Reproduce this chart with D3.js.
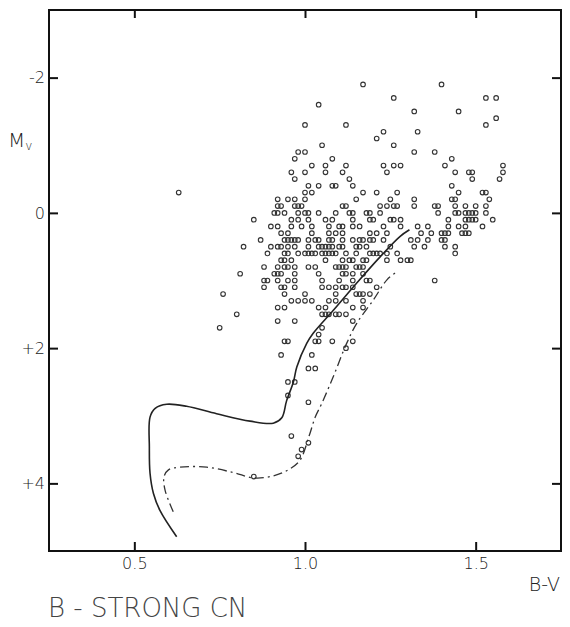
<!DOCTYPE html>
<html>
<head>
<meta charset="utf-8">
<script src="https://cdn.jsdelivr.net/npm/d3@7"></script>
<style>
  body { margin: 0; background: #fff; }
  svg { display: block; }
  .lbl { font-family: "DejaVu Sans", sans-serif; font-weight: 200; fill: #222; }
</style>
</head>
<body>
<div id="chart"></div>
<script>
// B-V ticks and Mv ticks
var xTicks = [0.5, 1.0, 1.5];
var xTickLabels = ["0.5", "1.0", "1.5"];
var yTicks = [-2, 0, 2, 4];
var yTickLabels = ["-2", "0", "+2", "+4"];

// stars, one entry per Mv row (0.1 mag steps), B-V values in that row
var starRows = [
  {mv: -1.9, bv: [1.17, 1.40]},
  {mv: -1.7, bv: [1.26, 1.53, 1.56]},
  {mv: -1.6, bv: [1.04]},
  {mv: -1.5, bv: [1.32, 1.45]},
  {mv: -1.4, bv: [1.56]},
  {mv: -1.3, bv: [1.00, 1.12, 1.53]},
  {mv: -1.2, bv: [1.23, 1.33]},
  {mv: -1.1, bv: [1.21]},
  {mv: -1.0, bv: [1.05, 1.26]},
  {mv: -0.9, bv: [0.98, 1.00, 1.32, 1.38]},
  {mv: -0.8, bv: [0.97, 1.08, 1.43]},
  {mv: -0.7, bv: [1.02, 1.06, 1.12, 1.23, 1.26, 1.28, 1.41, 1.58]},
  {mv: -0.6, bv: [0.96, 1.00, 1.06, 1.11, 1.24, 1.44, 1.48, 1.49, 1.58]},
  {mv: -0.5, bv: [0.97, 1.13, 1.49, 1.57]},
  {mv: -0.4, bv: [1.01, 1.04, 1.08, 1.09, 1.14, 1.43]},
  {mv: -0.3, bv: [0.63, 1.00, 1.02, 1.17, 1.21, 1.27, 1.45, 1.52, 1.53]},
  {mv: -0.2, bv: [0.92, 0.95, 0.97, 1.00, 1.15, 1.25, 1.32, 1.43, 1.44, 1.54]},
  {mv: -0.1, bv: [0.92, 0.93, 0.97, 0.98, 0.99, 1.11, 1.12, 1.22, 1.24, 1.26, 1.27, 1.32, 1.38, 1.39, 1.44, 1.47, 1.50, 1.53]},
  {mv: 0.0, bv: [0.91, 0.92, 0.94, 0.98, 1.00, 1.01, 1.04, 1.09, 1.13, 1.14, 1.18, 1.19, 1.22, 1.39, 1.44, 1.45, 1.47, 1.48, 1.49, 1.50, 1.53]},
  {mv: 0.1, bv: [0.85, 0.96, 0.98, 1.01, 1.06, 1.08, 1.14, 1.19, 1.20, 1.25, 1.26, 1.28, 1.42, 1.47, 1.48, 1.49, 1.50, 1.55]},
  {mv: 0.2, bv: [0.90, 0.92, 0.96, 0.99, 1.02, 1.07, 1.10, 1.11, 1.14, 1.16, 1.23, 1.28, 1.33, 1.36, 1.42, 1.45, 1.47, 1.52]},
  {mv: 0.3, bv: [0.93, 0.95, 1.02, 1.07, 1.09, 1.11, 1.19, 1.21, 1.24, 1.34, 1.37, 1.40, 1.41, 1.42, 1.46, 1.47, 1.48]},
  {mv: 0.4, bv: [0.87, 0.94, 0.95, 0.96, 0.97, 0.98, 1.01, 1.03, 1.04, 1.07, 1.08, 1.11, 1.14, 1.16, 1.17, 1.19, 1.20, 1.23, 1.31, 1.33, 1.36, 1.40, 1.41]},
  {mv: 0.5, bv: [0.82, 0.90, 0.92, 0.93, 0.95, 0.97, 1.01, 1.04, 1.05, 1.06, 1.07, 1.08, 1.10, 1.11, 1.15, 1.16, 1.18, 1.25, 1.32, 1.35, 1.41, 1.44]},
  {mv: 0.6, bv: [0.89, 0.94, 0.95, 0.98, 1.00, 1.01, 1.02, 1.03, 1.05, 1.06, 1.07, 1.08, 1.09, 1.12, 1.15, 1.19, 1.20, 1.21, 1.22, 1.24, 1.27, 1.44]},
  {mv: 0.7, bv: [0.93, 0.94, 0.96, 1.06, 1.11, 1.13, 1.14, 1.17, 1.18, 1.24, 1.28, 1.30, 1.31]},
  {mv: 0.8, bv: [0.88, 0.92, 0.94, 0.95, 0.97, 1.01, 1.03, 1.09, 1.10, 1.11, 1.12, 1.15, 1.16, 1.17]},
  {mv: 0.9, bv: [0.81, 0.91, 0.92, 0.93, 0.97, 1.04, 1.11, 1.12, 1.14, 1.17]},
  {mv: 1.0, bv: [0.88, 0.89, 0.92, 0.95, 0.97, 1.05, 1.10, 1.14, 1.18, 1.19, 1.38]},
  {mv: 1.1, bv: [0.88, 0.93, 0.94, 0.97, 1.05, 1.07, 1.09, 1.11, 1.12, 1.14, 1.21]},
  {mv: 1.2, bv: [0.76, 0.94, 1.00, 1.09, 1.15, 1.16, 1.17, 1.19]},
  {mv: 1.3, bv: [0.96, 0.98, 1.00, 1.02, 1.07, 1.09, 1.12, 1.17]},
  {mv: 1.4, bv: [0.92, 0.94, 1.04, 1.06, 1.14, 1.17]},
  {mv: 1.5, bv: [0.80, 1.05, 1.06, 1.07, 1.09, 1.10, 1.12]},
  {mv: 1.6, bv: [0.92, 0.97, 1.14]},
  {mv: 1.7, bv: [0.75, 1.05]},
  {mv: 1.8, bv: [1.04]},
  {mv: 1.9, bv: [0.94, 0.95, 1.03, 1.04, 1.08, 1.14]},
  {mv: 2.0, bv: [1.12]},
  {mv: 2.1, bv: [0.93, 1.02]},
  {mv: 2.3, bv: [1.01, 1.03]},
  {mv: 2.5, bv: [0.95, 0.97]},
  {mv: 2.7, bv: [0.95]},
  {mv: 2.8, bv: [1.01]},
  {mv: 3.3, bv: [0.96]},
  {mv: 3.4, bv: [1.01]},
  {mv: 3.5, bv: [0.99]},
  {mv: 3.6, bv: [0.98]},
  {mv: 3.9, bv: [0.85]}
];

// fiducial sequences [B-V, Mv]
var solidCurve = [
  [0.624, 4.79], [0.575, 4.40], [0.556, 4.15], [0.546, 3.85], [0.544, 3.46],
  [0.546, 3.02], [0.561, 2.89], [0.595, 2.83], [0.653, 2.86], [0.741, 2.97],
  [0.839, 3.08], [0.907, 3.11], [0.932, 3.03], [0.946, 2.78], [0.966, 2.50],
  [0.976, 2.28], [1.005, 1.93], [1.024, 1.78], [1.083, 1.44], [1.151, 1.04],
  [1.220, 0.65], [1.278, 0.35], [1.306, 0.25]
];
var dashCurve = [
  [0.614, 4.42], [0.590, 4.10], [0.587, 3.90], [0.600, 3.80], [0.634, 3.76],
  [0.712, 3.76], [0.790, 3.84], [0.851, 3.92], [0.907, 3.89], [0.951, 3.80],
  [0.985, 3.66], [1.012, 3.30], [1.030, 3.02], [1.049, 2.82], [1.083, 2.42],
  [1.122, 1.93], [1.152, 1.63], [1.200, 1.29], [1.240, 0.99], [1.269, 0.87]
];

var width = 570, height = 627;
var svg = d3.select("#chart").append("svg")
    .attr("width", width)
    .attr("height", height);

var x = d3.scaleLinear().domain([0.25, 1.75]).range([49, 561]);
var y = d3.scaleLinear().domain([-3, 5]).range([10, 551]);

// stars
var stars = [];
starRows.forEach(function(r) {
    r.bv.forEach(function(b) { stars.push({bv: b, mv: r.mv}); });
});

svg.append("g").selectAll("circle")
    .data(stars)
    .enter()
    .append("circle")
    .attr("cx", function(d) { return x(d.bv); })
    .attr("cy", function(d) { return y(d.mv); })
    .attr("r", 2.3)
    .attr("fill", "none")
    .attr("stroke", "#333")
    .attr("stroke-width", 1.1);

var line = d3.line()
    .x(function(d) { return x(d[0]); })
    .y(function(d) { return y(d[1]); })
    .curve(d3.curveCatmullRom);

svg.append("path")
    .attr("d", line(solidCurve))
    .attr("fill", "none")
    .attr("stroke", "#222")
    .attr("stroke-width", 1.6);

svg.append("path")
    .attr("d", line(dashCurve))
    .attr("fill", "none")
    .attr("stroke", "#333")
    .attr("stroke-width", 1.3)
    .attr("stroke-dasharray", "9,4,2,4");

// axes, ticks pointing inward
var bottomAxis = svg.append("g")
    .attr("transform", "translate(0," + y.range()[1] + ")")
    .call(d3.axisBottom(x).tickValues(xTicks)
        .tickFormat(function(d, i) { return xTickLabels[i]; })
        .tickSizeInner(-9).tickSizeOuter(0).tickPadding(7));
var topAxis = svg.append("g")
    .attr("transform", "translate(0," + y.range()[0] + ")")
    .call(d3.axisTop(x).tickValues(xTicks).tickFormat("")
        .tickSizeInner(-8).tickSizeOuter(0));
var leftAxis = svg.append("g")
    .attr("transform", "translate(" + x.range()[0] + ",0)")
    .call(d3.axisLeft(y).tickValues(yTicks)
        .tickFormat(function(d, i) { return yTickLabels[i]; })
        .tickSizeInner(-9).tickSizeOuter(0).tickPadding(4));
var rightAxis = svg.append("g")
    .attr("transform", "translate(" + x.range()[1] + ",0)")
    .call(d3.axisRight(y).tickValues(yTicks).tickFormat("")
        .tickSizeInner(-9).tickSizeOuter(0));

[bottomAxis, topAxis, leftAxis, rightAxis].forEach(function(g) {
    g.select(".domain").remove();
    g.selectAll(".tick line").attr("stroke", "#111").attr("stroke-width", 2);
    g.selectAll(".tick text")
        .attr("class", "lbl")
        .style("font-size", "16px")
        .attr("fill", null);
});

// frame
svg.append("rect")
    .attr("x", x.range()[0])
    .attr("y", y.range()[0])
    .attr("width", x.range()[1] - x.range()[0])
    .attr("height", y.range()[1] - y.range()[0])
    .attr("fill", "none")
    .attr("stroke", "#111")
    .attr("stroke-width", 2);

// axis titles
var mvLabel = svg.append("text")
    .attr("class", "lbl")
    .attr("x", 8)
    .attr("y", 147)
    .style("font-size", "20px")
    .text("M");
mvLabel.append("tspan")
    .attr("dy", 3)
    .style("font-size", "12px")
    .text("v");

svg.append("text")
    .attr("class", "lbl")
    .attr("x", 560)
    .attr("y", 591)
    .attr("text-anchor", "end")
    .style("font-size", "19px")
    .text("B-V");

svg.append("text")
    .attr("class", "lbl")
    .attr("x", 48)
    .attr("y", 617)
    .style("font-size", "26px")
    .style("fill", "#444")
    .text("B - STRONG CN");
</script>
</body>
</html>
